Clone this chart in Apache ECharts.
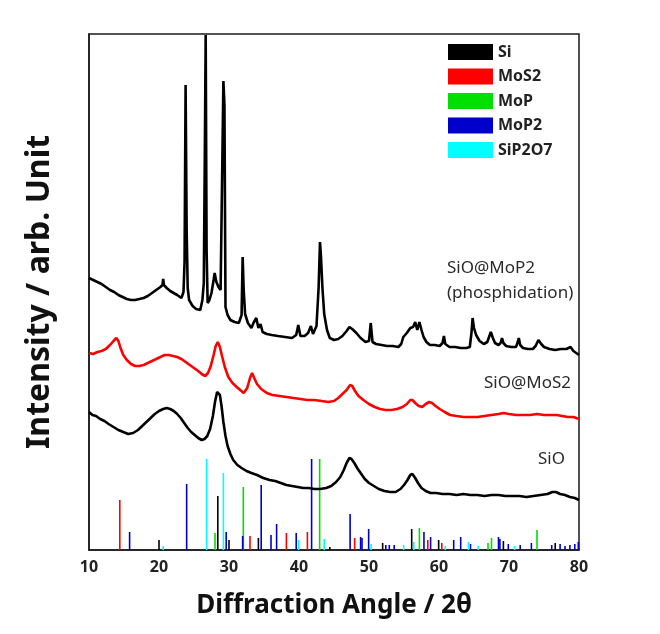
<!DOCTYPE html>
<html>
<head>
<meta charset="utf-8">
<script src="https://cdn.jsdelivr.net/npm/echarts@6/dist/echarts.min.js"></script>
<style>
html,body{margin:0;padding:0;background:#fff;}
#chart{width:660px;height:634px;}
</style>
</head>
<body>
<div id="chart"></div>
<script>
// ---- Data (2θ, intensity in arb. units) ----
const xTicks = [10, 20, 30, 40, 50, 60, 70, 80];
const phaseNames = ['Si', 'MoS2', 'MoP', 'MoP2', 'SiP2O7'];
const curveLabels = ['SiO@MoP2', '(phosphidation)', 'SiO@MoS2', 'SiO'];

const sticksSi = [[20.0,10],[28.4,54],[30.0,10],[34.2,12],[44.4,3],[51.95,7],[56.1,21],[59.95,10],[69.2,9],[76.6,7]];
const sticksMoS2 = [[14.4,50],[33.0,14],[38.2,17],[41.2,18],[47.95,12],[58.4,10],[60.4,7]];
const sticksMoP = [[28.0,17],[32.05,63],[42.95,91],[57.2,22],[67.0,7],[67.5,12],[74.0,20]];
const sticksMoP2 = [[15.8,18],[23.95,66],[29.6,18],[31.95,14],[34.6,65],[36.0,15],[36.8,26],[39.6,17],[41.8,91],[47.3,36],[48.8,13],[49.0,12],[49.95,21],[52.4,5],[52.9,5],[53.6,5],[57.85,18],[58.8,13],[62.1,10],[63.1,13],[64.5,6],[68.5,13],[68.7,11],[69.9,6],[71.6,5],[73.2,7],[76.1,5],[77.3,6],[78.0,4],[78.7,5],[79.4,6],[79.9,8]];
const sticksSiP2O7 = [[20.6,4],[26.8,91],[29.2,77],[39.95,10],[43.6,11],[50.3,6],[54.95,5],[56.4,8],[60.9,4],[64.2,8],[65.6,4],[70.8,4]];

const curveSiO = [[10.0,138],[10.5,135],[11.0,134],[11.6,131],[12.2,129],[12.8,126],[13.5,123],[14.2,120],[14.9,118],[15.6,116],[16.3,117],[17.0,120],[17.6,124],[18.2,128],[18.8,132],[19.4,136],[20.0,139],[20.6,141],[21.1,142],[21.6,141],[22.1,139],[22.6,136],[23.1,132],[23.6,127],[24.1,122],[24.6,118],[25.1,115],[25.6,112],[26.1,110],[26.5,111],[26.9,114],[27.3,121],[27.7,134],[28.0,148],[28.3,158],[28.5,160],[28.7,155],[28.95,143],[29.2,128],[29.5,114],[29.8,104],[30.2,96],[30.6,90],[31.2,85],[31.8,82],[32.5,79],[33.2,77],[34.0,75],[34.9,72],[35.8,70],[36.6,69],[37.4,67],[38.2,65],[39.0,64],[39.8,63],[40.6,62],[41.4,62],[42.2,61],[43.0,61],[43.9,62],[44.6,64],[45.3,68],[45.9,73],[46.4,80],[46.8,87],[47.2,92],[47.5,91],[47.9,87],[48.4,81],[48.9,76],[49.4,71],[50.0,67],[50.7,64],[51.4,61],[52.2,59],[53.0,58],[53.8,58],[54.5,61],[55.0,65],[55.5,70],[55.9,75],[56.2,76],[56.6,72],[57.0,67],[57.5,62],[58.1,59],[58.8,57],[59.6,57],[60.5,56],[61.5,56],[62.5,55],[63.5,56],[64.5,55],[65.5,55],[66.5,54],[67.5,55],[68.5,55],[69.5,54],[70.5,54],[71.5,54],[72.5,53],[73.5,54],[74.5,55],[75.5,56],[76.2,58],[76.7,58],[77.3,56],[78.0,55],[78.7,53],[79.4,52],[80.0,50]];

const curveSiOMoS2 = [[10.0,197],[10.6,196],[11.2,198],[11.8,199],[12.4,201],[13.0,205],[13.5,209],[13.9,212],[14.2,209],[14.5,202],[14.9,195],[15.4,190],[16.0,186],[16.6,184],[17.2,184],[17.8,185],[18.4,187],[19.0,189],[19.6,191],[20.2,193],[20.8,195],[21.4,195],[22.0,194],[22.6,193],[23.2,191],[23.8,188],[24.4,185],[25.0,182],[25.6,179],[26.1,176],[26.6,174],[27.0,177],[27.4,184],[27.8,195],[28.1,204],[28.4,208],[28.7,203],[29.0,194],[29.4,183],[29.9,173],[30.5,167],[31.1,163],[31.6,160],[32.1,157],[32.6,162],[33.0,172],[33.3,177],[33.6,172],[34.0,166],[34.6,161],[35.4,157],[36.2,155],[37.2,154],[38.2,153],[39.2,152],[40.2,151],[41.2,150],[42.2,150],[43.2,149],[44.2,148],[45.0,149],[45.6,152],[46.2,156],[46.8,160],[47.3,165],[47.6,164],[48.0,159],[48.5,154],[49.2,150],[50.0,146],[50.8,143],[51.6,141],[52.4,140],[53.2,140],[54.0,141],[54.8,143],[55.4,146],[55.9,150],[56.2,150],[56.6,147],[57.1,144],[57.6,143],[58.1,146],[58.6,148],[59.0,147],[59.5,144],[60.1,141],[60.8,138],[61.6,135],[62.5,134],[63.5,133],[64.5,133],[65.5,133],[66.5,134],[67.5,135],[68.5,136],[69.2,137],[70.0,136],[71.0,135],[72.0,135],[73.0,135],[74.0,136],[75.0,135],[76.0,135],[76.8,135],[77.6,134],[78.4,133],[79.2,133],[80.0,131]];

const curveSiOMoP2 = [[10.0,272],[10.6,270],[11.2,268],[11.8,266],[12.4,263],[13.0,260],[13.6,258],[14.2,255],[14.8,253],[15.4,251],[16.0,250],[16.6,250],[17.2,251],[17.8,252],[18.4,254],[19.0,257],[19.6,260],[20.2,263],[20.5,265],[20.6,271],[20.7,265],[21.1,262],[21.6,259],[22.1,257],[22.6,255],[23.2,252],[23.5,258],[23.65,288],[23.8,465],[23.95,320],[24.1,262],[24.3,250],[24.8,244],[25.3,241],[25.9,240],[26.2,250],[26.4,267],[26.55,400],[26.67,515],[26.8,300],[26.95,247],[27.2,250],[27.5,257],[27.8,270],[27.95,277],[28.2,268],[28.5,263],[28.8,260],[29.05,258],[29.2,469],[29.35,445],[29.5,243],[29.8,235],[30.2,230],[30.8,228],[31.4,227],[31.8,235],[31.95,293],[32.1,260],[32.3,236],[32.7,227],[33.2,222],[33.5,227],[33.9,232],[34.2,222],[34.5,226],[34.8,218],[35.4,216],[36.1,215],[37.0,214],[38.0,213],[39.0,212],[39.6,215],[39.9,225],[40.2,214],[40.8,214],[41.3,217],[41.7,224],[42.0,216],[42.5,224],[42.8,262],[43.0,308],[43.15,292],[43.35,262],[43.6,236],[44.0,220],[44.4,212],[45.0,210],[45.6,211],[46.2,214],[46.8,219],[47.2,223],[47.6,221],[48.2,217],[48.8,212],[49.5,208],[50.0,209],[50.25,227],[50.5,208],[51.0,206],[51.8,205],[52.6,204],[53.4,204],[54.2,203],[54.6,206],[54.9,213],[55.4,217],[55.9,222],[56.3,223],[56.6,228],[56.9,220],[57.2,228],[57.5,220],[57.8,213],[58.2,208],[58.7,205],[59.4,205],[60.1,204],[60.5,207],[60.7,214],[60.9,206],[61.5,203],[62.3,203],[63.1,202],[63.9,202],[64.4,203],[64.65,218],[64.8,232],[65.0,222],[65.3,215],[65.8,209],[66.4,206],[66.9,208],[67.2,214],[67.4,218],[67.7,212],[68.0,207],[68.5,205],[68.8,207],[69.0,212],[69.2,207],[69.6,204],[70.3,203],[71.0,203],[71.25,208],[71.4,212],[71.6,205],[72.0,202],[72.7,201],[73.4,201],[73.8,204],[74.2,210],[74.6,206],[75.0,203],[75.8,201],[76.6,200],[77.4,201],[78.2,201],[78.8,203],[79.2,199],[79.6,197],[80.0,195]];

// ---- Chart ----
const FONT = '"Noto Sans", "DejaVu Sans", sans-serif';
const chart = echarts.init(document.getElementById('chart'), null, {renderer: 'canvas'});

function stickRender(params, api) {
  const x = api.value(0), h = api.value(1);
  const p0 = api.coord([x, 0]);
  const p1 = api.coord([x, h]);
  return {
    type: 'line',
    shape: {x1: p0[0], y1: p0[1], x2: p1[0], y2: p1[1]},
    style: {stroke: api.visual('color'), lineWidth: 1.6}
  };
}

const phaseColors = ['#000000', '#ff0000', '#00e000', '#0000cc', '#00ffff'];
const phaseData = [sticksSi, sticksMoS2, sticksMoP, sticksMoP2, sticksSiP2O7];

const stickSeries = phaseNames.map((n, i) => ({
  name: n,
  type: 'custom',
  renderItem: stickRender,
  itemStyle: {color: phaseColors[i]},
  encode: {x: 0, y: 1},
  data: phaseData[i],
  z: 2,
  silent: true
}));

function curve(data, color) {
  return {
    type: 'line',
    data: data,
    showSymbol: false,
    symbol: 'none',
    lineStyle: {color: color, width: 2.6},
    itemStyle: {color: color},
    z: 3,
    silent: true,
    animation: false
  };
}

const labelStyle = {fill: '#2a2a2a', font: '17px ' + FONT};

chart.setOption({
  animation: false,
  backgroundColor: '#ffffff',
  grid: {left: 89, top: 34, width: 490, height: 516, show: true, borderColor: '#1a1a1a', borderWidth: 1.5, backgroundColor: 'transparent'},
  legend: {
    data: phaseNames,
    orient: 'vertical',
    left: 443,
    top: 39,
    itemWidth: 45,
    itemHeight: 16,
    itemGap: 8.5,
    icon: 'rect',
    textStyle: {fontFamily: FONT, fontWeight: 'bold', fontSize: 16, color: '#222'},
    selectedMode: false
  },
  xAxis: {
    type: 'value',
    min: 10, max: 80, interval: 10,
    axisLine: {show: true, lineStyle: {color: '#1a1a1a', width: 1.5}},
    axisTick: {show: false},
    splitLine: {show: false},
    axisLabel: {
      margin: 9,
      fontFamily: FONT, fontWeight: 'bold', fontSize: 16, color: '#222',
      formatter: v => xTicks.includes(v) ? String(v) : ''
    },
    name: 'Diffraction Angle / 2θ',
    nameLocation: 'middle',
    nameGap: 43,
    nameTextStyle: {fontFamily: FONT, fontWeight: 'bold', fontSize: 26, color: '#111'}
  },
  yAxis: {
    type: 'value',
    min: 0, max: 516,
    axisLine: {show: true, lineStyle: {color: '#1a1a1a', width: 1.5}},
    axisTick: {show: false},
    axisLabel: {show: false},
    splitLine: {show: false},
    name: 'Intensity / arb. Unit',
    nameLocation: 'middle',
    nameGap: 33,
    nameTextStyle: {fontFamily: FONT, fontWeight: 'bold', fontSize: 32, color: '#111'}
  },
  graphic: [
    {type: 'text', left: 447, top: 260, style: Object.assign({text: curveLabels[0]}, labelStyle)},
    {type: 'text', left: 447, top: 285, style: Object.assign({text: curveLabels[1]}, labelStyle)},
    {type: 'text', right: 89, top: 375, style: Object.assign({text: curveLabels[2]}, labelStyle)},
    {type: 'text', right: 95, top: 451, style: Object.assign({text: curveLabels[3]}, labelStyle)}
  ],
  series: stickSeries.concat([
    curve(curveSiO, '#000000'),
    curve(curveSiOMoS2, '#ff0000'),
    curve(curveSiOMoP2, '#000000')
  ])
});
</script>
</body>
</html>
